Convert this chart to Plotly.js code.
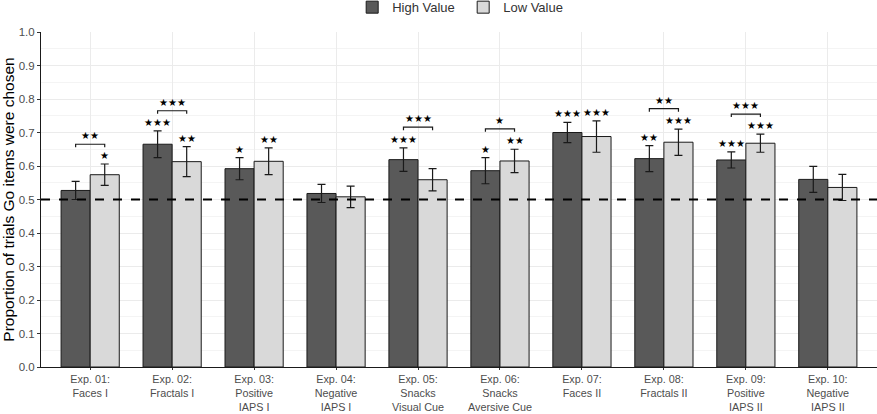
<!DOCTYPE html>
<html>
<head>
<meta charset="utf-8">
<script src="https://cdn.plot.ly/plotly-3.0.1.min.js"></script>
<style>html,body{margin:0;padding:0;background:#fff;}#chart{width:877px;height:414px;}</style>
</head>
<body>
<div id="chart"></div>
<script>
const categories = [
  "Exp. 01:<br>Faces I",
  "Exp. 02:<br>Fractals I",
  "Exp. 03:<br>Positive<br>IAPS I",
  "Exp. 04:<br>Negative<br>IAPS I",
  "Exp. 05:<br>Snacks<br>Visual Cue",
  "Exp. 06:<br>Snacks<br>Aversive Cue",
  "Exp. 07:<br>Faces II",
  "Exp. 08:<br>Fractals II",
  "Exp. 09:<br>Positive<br>IAPS II",
  "Exp. 10:<br>Negative<br>IAPS II"
];
const highValue = [0.527, 0.665, 0.592, 0.518, 0.619, 0.586, 0.700, 0.622, 0.618, 0.560];
const highErr   = [0.027, 0.040, 0.033, 0.027, 0.035, 0.039, 0.030, 0.039, 0.024, 0.039];
const lowValue  = [0.574, 0.613, 0.614, 0.508, 0.559, 0.615, 0.688, 0.671, 0.668, 0.536];
const lowErr    = [0.032, 0.045, 0.040, 0.032, 0.033, 0.035, 0.047, 0.039, 0.027, 0.039];
const highSig   = ["", "***", "*", "", "***", "*", "***", "**", "***", ""];
const lowSig    = ["*", "**", "**", "", "", "**", "***", "***", "***", ""];
const bracketSig = ["**", "***", "", "", "***", "*", "", "**", "***", ""];
const bracketY   = [0.665, 0.765, null, null, 0.716, 0.711, null, 0.771, 0.755, null];
const yTicks = [0.0, 0.1, 0.2, 0.3, 0.4, 0.5, 0.6, 0.7, 0.8, 0.9, 1.0];
const chanceLevel = 0.5;

const idx = categories.map((_, i) => i);
const bargap = 0.29;
const half = (1 - bargap) / 4; // offset of each bar centre from category centre

const font = "Liberation Sans, Arial, Helvetica, sans-serif";
const starFont = {family: "DejaVu Sans, sans-serif", size: 10, color: "#000"};
const toStars = s => s.replace(/\*/g, "★");

const traces = [
  {
    type: "bar", name: "High Value", x: idx, y: highValue,
    marker: {color: "#595959", line: {color: "#1a1a1a", width: 1}},
    error_y: {type: "data", array: highErr, visible: true, color: "#1a1a1a", thickness: 1.2, width: 4},
    hoverinfo: "y"
  },
  {
    type: "bar", name: "Low Value", x: idx, y: lowValue,
    marker: {color: "#d9d9d9", line: {color: "#1a1a1a", width: 1}},
    error_y: {type: "data", array: lowErr, visible: true, color: "#1a1a1a", thickness: 1.2, width: 4},
    hoverinfo: "y"
  }
];

const annotations = [];
const shapes = [];

idx.forEach(i => {
  if (highSig[i]) annotations.push({
    x: i - half, y: highValue[i] + highErr[i], xref: "x", yref: "y",
    text: toStars(highSig[i]), showarrow: false, yanchor: "bottom", yshift: 1,
    font: starFont
  });
  if (lowSig[i]) annotations.push({
    x: i + half, y: lowValue[i] + lowErr[i], xref: "x", yref: "y",
    text: toStars(lowSig[i]), showarrow: false, yanchor: "bottom", yshift: 1,
    font: starFont
  });
  if (bracketY[i] !== null) {
    const y = bracketY[i], leg = 0.009;
    shapes.push({
      type: "path", xref: "x", yref: "y", layer: "above",
      path: `M ${i - half} ${y - leg} L ${i - half} ${y} L ${i + half} ${y} L ${i + half} ${y - leg}`,
      line: {color: "#1a1a1a", width: 1.2}
    });
    annotations.push({
      x: i, y: y, xref: "x", yref: "y",
      text: toStars(bracketSig[i]), showarrow: false, yanchor: "bottom", yshift: 1,
      font: starFont
    });
  }
});

shapes.push({
  type: "line", xref: "paper", yref: "y", x0: 0, x1: 1, y0: chanceLevel, y1: chanceLevel,
  layer: "above", line: {color: "#000", width: 2.2, dash: "dash"}
});

const layout = {
  width: 877, height: 414,
  margin: {l: 41, r: 0, t: 32, b: 47, autoexpand: false},
  paper_bgcolor: "#fff", plot_bgcolor: "#fff",
  barmode: "group", bargap: bargap, bargroupgap: 0,
  font: {family: font, size: 12, color: "#4d4d4d"},
  showlegend: true,
  legend: {
    orientation: "h", x: 0.505, xanchor: "center", y: 1.074, yanchor: "middle",
    yref: "paper", font: {family: font, size: 13, color: "#333"},
    traceorder: "normal", itemwidth: 30, tracegroupgap: 0,
    entrywidth: 66, entrywidthmode: "pixels"
  },
  xaxis: {
    range: [-0.6, 9.6], tickmode: "array", tickvals: idx, ticktext: categories,
    showgrid: true, gridcolor: "#ebebeb", gridwidth: 1,
    showline: true, linecolor: "#1a1a1a", linewidth: 1,
    ticks: "outside", ticklen: 2, tickcolor: "#333",
    tickfont: {family: font, size: 10.8, color: "#4d4d4d"},
    zeroline: false, fixedrange: true
  },
  yaxis: {
    range: [0, 1.0], tickmode: "array", tickvals: yTicks,
    ticktext: yTicks.map(v => v.toFixed(1)),
    showgrid: true, gridcolor: "#ebebeb", gridwidth: 1,
    minor: {dtick: 0.05, showgrid: true, gridcolor: "#f4f4f4", gridwidth: 1},
    showline: true, linecolor: "#1a1a1a", linewidth: 1,
    ticks: "outside", ticklen: 3, tickcolor: "#333",
    tickfont: {family: font, size: 11.5, color: "#4d4d4d"},
    title: {text: "Proportion of trials Go items were chosen", font: {family: font, size: 15.5, color: "#000"}, standoff: 4},
    zeroline: false, fixedrange: true
  },
  shapes: shapes,
  annotations: annotations
};

Plotly.newPlot("chart", traces, layout, {displayModeBar: false, staticPlot: true});
</script>
</body>
</html>
